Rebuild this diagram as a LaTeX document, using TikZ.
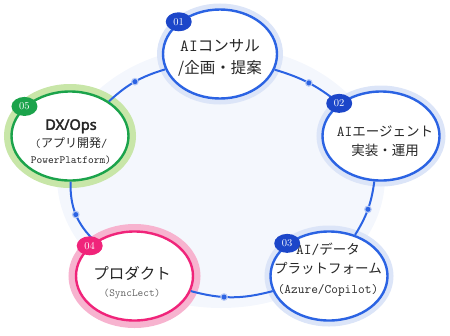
\documentclass[tikz,border=0pt]{standalone}
\usepackage{fontspec}
\newfontfamily\jp{Noto Sans CJK JP}
\newfontfamily\nsansb{Noto Sans}[FakeBold=2.5]
\usetikzlibrary{shapes.geometric}
\definecolor{cblue}{HTML}{2B63E3}
\definecolor{hblue}{HTML}{DCE5F8}
\definecolor{bblue}{HTML}{1C46C9}
\definecolor{cpink}{HTML}{F0247A}
\definecolor{hpink}{HTML}{F7B3CF}
\definecolor{cgreen}{HTML}{1BA34B}
\definecolor{hgreen}{HTML}{C8E6A8}
\definecolor{cbg}{HTML}{F4F7FD}
\definecolor{ctext}{HTML}{262626}
\definecolor{cgrey}{HTML}{666666}

\begin{document}
\begin{tikzpicture}[
        x=1pt, y=1pt,
        bubble/.style={ellipse, draw, fill=white, line width=2.4pt, minimum width=117pt, minimum height=89pt, inner sep=0pt},
        bluebub/.style={bubble, draw=cblue, preaction={draw=hblue, line width=12pt}},
        pinkbub/.style={bubble, draw=cpink, preaction={draw=hpink, line width=15pt}},
        greenbub/.style={bubble, draw=cgreen, preaction={draw=hgreen, line width=15pt}},
        badge/.style={ellipse, inner sep=0pt, minimum width=26pt, minimum height=19pt, text=white, font=\fontsize{10.5}{12}\selectfont},
        lbl/.style={align=center, inner sep=0pt, text=ctext},
        link/.style={draw=cblue, line width=2pt},
        midpt/.style={circle, fill=cblue, inner sep=0pt, minimum size=5pt, preaction={draw=cblue!35, line width=2.5pt}},
    ]
    \useasboundingbox (0,0) rectangle (450,-335);

    % pale disc behind the cycle
    \fill[cbg] (221,-177) ellipse [x radius=164, y radius=131];

    % === Bubbles ===
    \node[bluebub, minimum width=114pt] (n1) at (220,-54) {};
    \node[bluebub] (n2) at (381,-136) {};
    \node[bluebub] (n3) at (329,-276) {};
    \node[pinkbub] (n4) at (134.5,-276) {};
    \node[greenbub] (n5) at (70,-136) {};

    % === Cycle ===
    \draw[link] (n1) to[bend left=11] node[midpt, midway] (m12) {} (n2);
    \draw[link] (n2) to[bend left=12] node[midpt, midway] (m23) {} (n3);
    \draw[link] (n3) to[bend left=15] node[midpt, pos=0.6] (m34) {} (n4);
    \draw[link] (n4) to[bend left=24] node[midpt, midway] (m45) {} (n5);
    \draw[link] (n5) to[bend left=13] node[midpt, midway] (m51) {} (n1);

    % === Texts ===
    \node[lbl, font=\jp\fontsize{15.5}{22}\selectfont] (t1) at (220,-58) {{\ttfamily\fontsize{17}{22}\selectfont AI}コンサル\\/企画・提案};
    \node[lbl, font=\jp\fontsize{13.5}{19}\selectfont] (t2) at (385,-141.5) {{\ttfamily\fontsize{15}{19}\selectfont AI}エージェント\\実装・運用};
    \node[lbl, font=\jp\fontsize{13.5}{19.5}\selectfont] (t3) at (328,-269.5) {{\ttfamily\fontsize{15}{19.5}\selectfont AI/}データ\\プラットフォーム\\{\ttfamily\fontsize{13}{19.5}\selectfont (Azure/Copilot)}};
    \node[lbl, font=\jp\fontsize{15.5}{17}\selectfont] (t4) at (132,-283) {プロダクト\\{\ttfamily\fontsize{10.8}{17}\selectfont\color{cgrey}(SyncLect)}};
    \node[lbl, font=\jp\fontsize{12}{16.5}\selectfont] (t5) at (71,-142) {{\nsansb\fontsize{14.5}{16.5}\selectfont DX/Ops}\\[1pt]{\ttfamily(}アプリ開発{\ttfamily/}\\{\ttfamily\fontsize{10.9}{16.5}\selectfont PowerPlatform)}};

    % === Badges ===
    \node[badge, fill=bblue] (b1) at (n1.142) {01};
    \node[badge, fill=bblue] (b2) at (n2.142) {02};
    \node[badge, fill=bblue] (b3) at (n3.142) {03};
    \node[badge, fill=cpink] (b4) at (n4.146) {04};
    \node[badge, fill=cgreen] (b5) at (n5.147) {05};

\end{tikzpicture}
\end{document}
